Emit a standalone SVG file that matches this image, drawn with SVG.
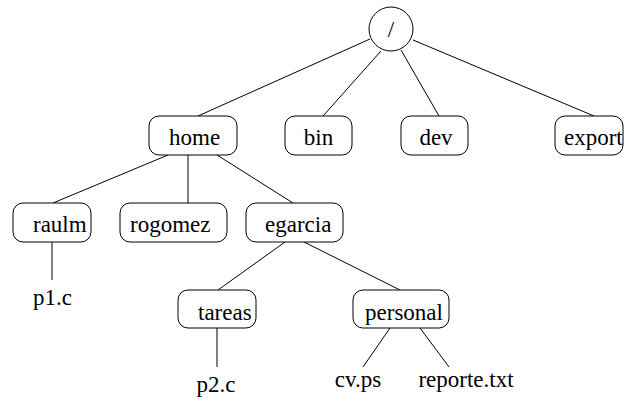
<svg xmlns="http://www.w3.org/2000/svg" width="624" height="402" viewBox="0 0 624 402">
<style>
.box{fill:#fff;stroke:#000;stroke-width:1}
.t{font-family:'Liberation Serif','Tinos','Times New Roman','Nimbus Roman','DejaVu Serif',serif;font-size:23px;fill:#000}
.m{text-anchor:middle}
#connectors line{stroke:#000;stroke-width:1}
</style>
<rect width="624" height="402" fill="#fff"/>
<g id="connectors">
<line x1="370" y1="39" x2="198" y2="116"/>
<line x1="381" y1="51" x2="323" y2="116"/>
<line x1="401" y1="50" x2="439" y2="116"/>
<line x1="413" y1="40" x2="594" y2="116"/>
<line x1="168" y1="155" x2="53" y2="203"/>
<line x1="188" y1="155" x2="188" y2="203"/>
<line x1="217" y1="155" x2="293" y2="203"/>
<line x1="52" y1="242" x2="52" y2="280"/>
<line x1="285" y1="242" x2="218" y2="290"/>
<line x1="304" y1="242" x2="400" y2="290"/>
<line x1="217" y1="328" x2="217" y2="367"/>
<line x1="390" y1="328" x2="363" y2="367"/>
<line x1="420" y1="328" x2="449" y2="367"/>
</g>
<g id="root"><circle class="box" cx="391" cy="29" r="22"/><text class="t m" x="391" y="37">/</text></g>
<g id="home"><rect class="box" x="149" y="116" width="88" height="39" rx="10"/><text class="t" x="169" y="145">home</text></g>
<g id="bin"><rect class="box" x="285" y="116" width="67" height="39" rx="10"/><text class="t m" x="318.5" y="145">bin</text></g>
<g id="dev"><rect class="box" x="401" y="116" width="67" height="39" rx="10"/><text class="t m" x="436" y="145">dev</text></g>
<g id="export"><rect class="box" x="555" y="116" width="68" height="39" rx="10"/><text class="t" x="564" y="145">export</text></g>
<g id="raulm"><rect class="box" x="13" y="203" width="78" height="39" rx="10"/><text class="t" x="33" y="232">raulm</text></g>
<g id="rogomez"><rect class="box" x="120" y="203" width="107" height="39" rx="10"/><text class="t" x="130" y="232">rogomez</text></g>
<g id="egarcia"><rect class="box" x="246" y="203" width="97" height="39" rx="10"/><text class="t" x="265" y="232">egarcia</text></g>
<g id="p1c"><text class="t m" x="52.5" y="305">p1.c</text></g>
<g id="tareas"><rect class="box" x="178" y="290" width="78" height="38" rx="10"/><text class="t" x="198" y="320">tareas</text></g>
<g id="personal"><rect class="box" x="353" y="290" width="96" height="38" rx="10"/><text class="t m" x="404" y="320">personal</text></g>
<g id="p2c"><text class="t m" x="216" y="392">p2.c</text></g>
<g id="cvps"><text class="t m" x="358" y="387">cv.ps</text></g>
<g id="reporte"><text class="t m" x="466" y="387">reporte.txt</text></g>
</svg>
